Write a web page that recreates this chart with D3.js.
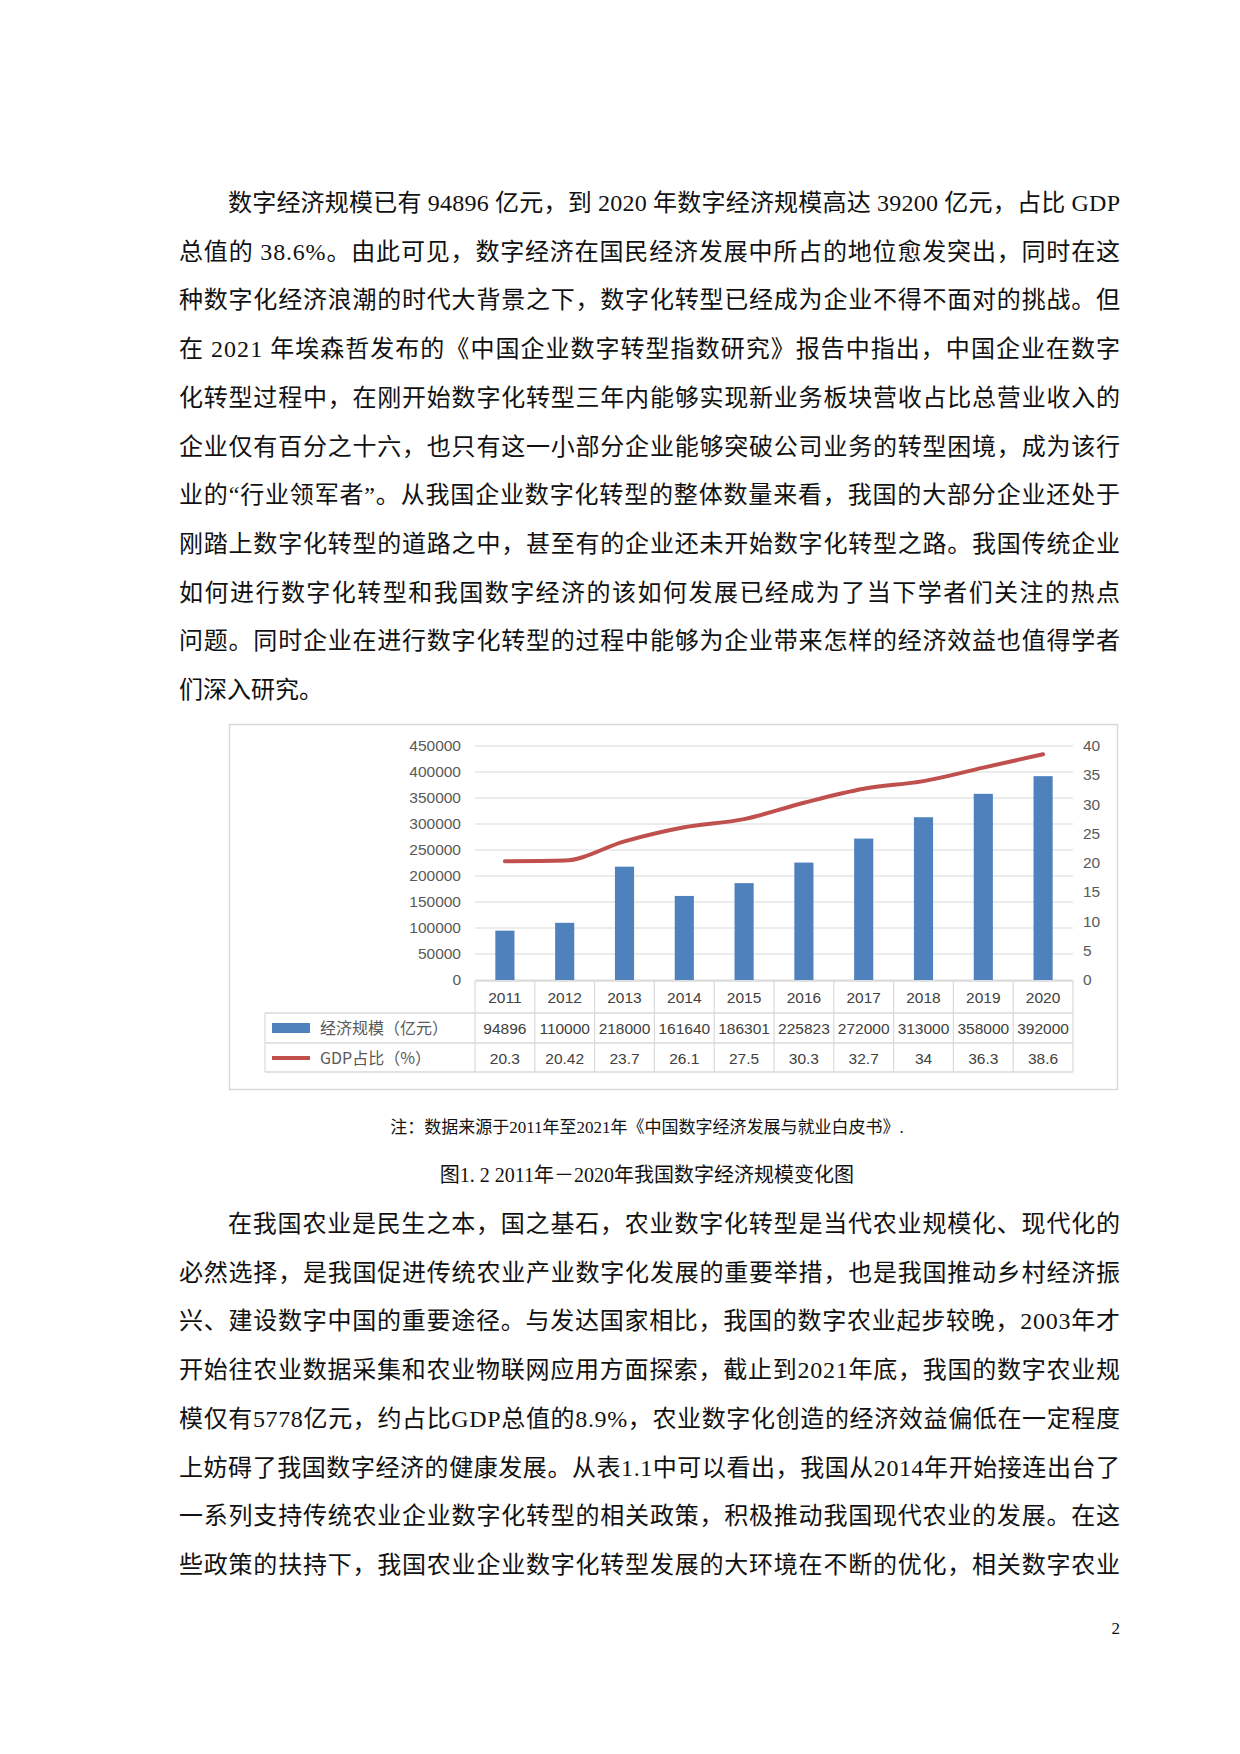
<!DOCTYPE html>
<html><head><meta charset="utf-8">
<script src="https://cdn.jsdelivr.net/npm/d3@7/dist/d3.min.js"></script>
<style>body{margin:0;background:#fff}</style></head>
<body><svg id="c" width="1240" height="1754"></svg>
<script>
const years = ["2011","2012","2013","2014","2015","2016","2017","2018","2019","2020"];
const scale = [94896,110000,218000,161640,186301,225823,272000,313000,358000,392000];
const gdpShare = [20.3,20.42,23.7,26.1,27.5,30.3,32.7,34,36.3,38.6];
const leftTicks = [0,50000,100000,150000,200000,250000,300000,350000,400000,450000];
const rightTicks = [0,5,10,15,20,25,30,35,40];
const seriesNames = ["经济规模（亿元）","GDP占比（%）"];

const para1 = [
 "数字经济规模已有 94896 亿元，到 2020 年数字经济规模高达 39200 亿元，占比 GDP",
 "总值的 38.6%。由此可见，数字经济在国民经济发展中所占的地位愈发突出，同时在这",
 "种数字化经济浪潮的时代大背景之下，数字化转型已经成为企业不得不面对的挑战。但",
 "在 2021 年埃森哲发布的《中国企业数字转型指数研究》报告中指出，中国企业在数字",
 "化转型过程中，在刚开始数字化转型三年内能够实现新业务板块营收占比总营业收入的",
 "企业仅有百分之十六，也只有这一小部分企业能够突破公司业务的转型困境，成为该行",
 "业的“行业领军者”。从我国企业数字化转型的整体数量来看，我国的大部分企业还处于",
 "刚踏上数字化转型的道路之中，甚至有的企业还未开始数字化转型之路。我国传统企业",
 "如何进行数字化转型和我国数字经济的该如何发展已经成为了当下学者们关注的热点",
 "问题。同时企业在进行数字化转型的过程中能够为企业带来怎样的经济效益也值得学者",
 "们深入研究。"];
const para2 = [
 "在我国农业是民生之本，国之基石，农业数字化转型是当代农业规模化、现代化的",
 "必然选择，是我国促进传统农业产业数字化发展的重要举措，也是我国推动乡村经济振",
 "兴、建设数字中国的重要途径。与发达国家相比，我国的数字农业起步较晚，2003年才",
 "开始往农业数据采集和农业物联网应用方面探索，截止到2021年底，我国的数字农业规",
 "模仅有5778亿元，约占比GDP总值的8.9%，农业数字化创造的经济效益偏低在一定程度",
 "上妨碍了我国数字经济的健康发展。从表1.1中可以看出，我国从2014年开始接连出台了",
 "一系列支持传统农业企业数字化转型的相关政策，积极推动我国现代农业的发展。在这",
 "些政策的扶持下，我国农业企业数字化转型发展的大环境在不断的优化，相关数字农业"];

const svg = d3.select("#c");
const bodyFont = "'Liberation Serif','Noto Sans CJK SC',serif";
const L = 179, R = 1120;
function drawPara(lines, y0, step, lastFull){
  lines.forEach((t,i)=>{
    const indent = i===0 ? 49 : 0;
    const full = lastFull || i < lines.length-1;
    const el = svg.append("text").attr("x", L+indent).attr("y", y0+i*step)
      .attr("font-family", bodyFont).attr("font-size", 24).attr("fill","#111").text(t);
    if(full) el.attr("textLength", R-L-indent).attr("lengthAdjust","spacing");
  });
}
drawPara(para1, 211, 48.7, false);
drawPara(para2, 1232, 48.7, true);

// chart frame
svg.append("rect").attr("x",229.5).attr("y",724.5).attr("width",888).attr("height",365)
  .attr("fill","#fff").attr("stroke","#d9d9d9").attr("stroke-width",1.5);

const px0 = 475, px1 = 1073, py0 = 746, py1 = 980;
const x = d3.scaleBand().domain(years).range([px0,px1]);
const yL = d3.scaleLinear().domain([0,450000]).range([py1,py0]);
const yR = d3.scaleLinear().domain([0,40]).range([py1, py0 + (py1-py0)/9*0]).nice();
yR.range([py1, yL(400000)]); // 40 aligns with 400000 gridline? adjust below
// right axis: 40 at top gridline region as in reference (40 ≈ 450000 line)
yR.range([py1, py0]);
const chartFont = "'Liberation Sans Narrow','Liberation Sans',Arial,sans-serif";
const g = svg.append("g");
g.selectAll("line.grid").data(leftTicks).join("line")
  .attr("x1",px0).attr("x2",px1).attr("y1",d=>yL(d)).attr("y2",d=>yL(d))
  .attr("stroke","#d9d9d9").attr("stroke-width",1.2);
g.selectAll("text.lt").data(leftTicks).join("text")
  .attr("x",461).attr("y",d=>yL(d)+5).attr("text-anchor","end")
  .attr("font-family",chartFont).attr("font-size",15.5).attr("fill","#595959").text(d=>d);
g.selectAll("text.rt").data(rightTicks).join("text")
  .attr("x",1083).attr("y",d=>yR(d)+5)
  .attr("font-family",chartFont).attr("font-size",15.5).attr("fill","#595959").text(d=>d);

g.selectAll("rect.bar").data(scale).join("rect")
  .attr("x",(d,i)=>x(years[i])+x.bandwidth()*0.34).attr("width",x.bandwidth()*0.32)
  .attr("y",d=>yL(d)).attr("height",d=>py1-yL(d)).attr("fill","#4f81bd");

const line = d3.line().x((d,i)=>x(years[i])+x.bandwidth()/2).y(d=>yR(d)).curve(d3.curveMonotoneX);
g.append("path").datum(gdpShare).attr("d",line).attr("fill","none")
  .attr("stroke","#c0504d").attr("stroke-width",4).attr("stroke-linecap","round");

// data table
const tl = 265, rows = [981, 1013, 1043, 1072];
const tcol = "#d9d9d9";
// horizontal lines
g.append("line").attr("x1",px0).attr("x2",px1).attr("y1",rows[0]).attr("y2",rows[0]).attr("stroke",tcol).attr("stroke-width",1.5);
[1,2,3].forEach(k=>g.append("line").attr("x1",tl).attr("x2",px1).attr("y1",rows[k]).attr("y2",rows[k]).attr("stroke",tcol).attr("stroke-width",1.5));
// vertical lines
years.forEach((y,i)=>g.append("line").attr("x1",x(y)).attr("x2",x(y)).attr("y1",rows[0]).attr("y2",rows[3]).attr("stroke",tcol).attr("stroke-width",1.2));
g.append("line").attr("x1",px1).attr("x2",px1).attr("y1",rows[0]).attr("y2",rows[3]).attr("stroke",tcol).attr("stroke-width",1.2);
g.append("line").attr("x1",tl).attr("x2",tl).attr("y1",rows[1]).attr("y2",rows[3]).attr("stroke",tcol).attr("stroke-width",1.2);
const tf = (sel)=>sel.attr("font-family",chartFont).attr("font-size",15.5).attr("fill","#404040").attr("text-anchor","middle");
years.forEach((y,i)=>{
  tf(g.append("text")).attr("x",x(y)+x.bandwidth()/2).attr("y",rows[0]+22).text(y);
  tf(g.append("text")).attr("x",x(y)+x.bandwidth()/2).attr("y",rows[1]+21).text(scale[i]);
  tf(g.append("text")).attr("x",x(y)+x.bandwidth()/2).attr("y",rows[2]+21).text(gdpShare[i]);
});
g.append("rect").attr("x",272).attr("y",rows[1]+10).attr("width",38).attr("height",10).attr("fill","#4f81bd");
g.append("line").attr("x1",272).attr("x2",310).attr("y1",rows[2]+15).attr("y2",rows[2]+15).attr("stroke","#c0504d").attr("stroke-width",4);
const lf = "'Liberation Sans Narrow','Noto Sans CJK SC',sans-serif";
g.append("text").attr("x",320).attr("y",rows[1]+21).attr("font-family",lf).attr("font-size",16).attr("fill","#595959").text(seriesNames[0]);
g.append("text").attr("x",320).attr("y",rows[2]+21).attr("font-family",lf).attr("font-size",16).attr("fill","#595959").text(seriesNames[1]);

// caption & title
svg.append("text").attr("x",647).attr("y",1133).attr("text-anchor","middle")
  .attr("font-family",bodyFont).attr("font-size",17).attr("fill","#111")
  .text("注：数据来源于2011年至2021年《中国数字经济发展与就业白皮书》.");
svg.append("text").attr("x",647).attr("y",1182).attr("text-anchor","middle")
  .attr("font-family",bodyFont).attr("font-size",20).attr("fill","#111")
  .text("图1. 2  2011年－2020年我国数字经济规模变化图");
svg.append("text").attr("x",1120).attr("y",1634).attr("text-anchor","end")
  .attr("font-family",bodyFont).attr("font-size",17).attr("fill","#111").text("2");
</script></body></html>
